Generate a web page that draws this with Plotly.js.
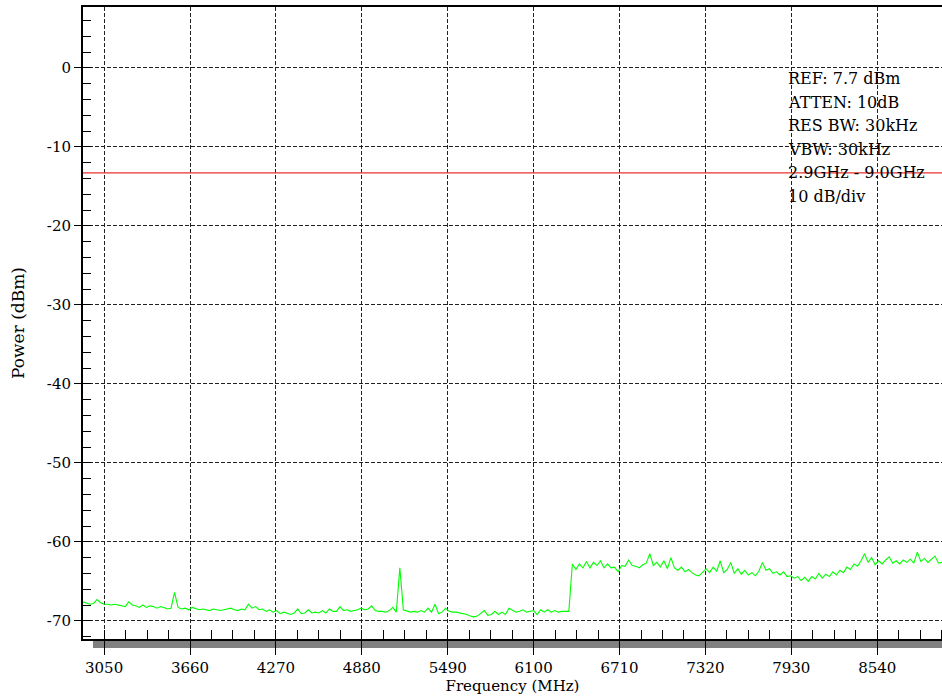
<!DOCTYPE html>
<html>
<head>
<meta charset="utf-8">
<script src="https://cdn.plot.ly/plotly-3.0.1.min.js"></script>
<style>html,body{margin:0;padding:0;background:#fff;}#chart{width:942px;height:698px;}</style>
</head>
<body>
<div id="chart"></div>
<script>
// Sweep: start frequency and step (MHz) of the trace samples
var sweepStartMHz = 2900;
var sweepStepMHz = 25;
// Measured power (dBm), one value per sweep step from 2900 to 9000 MHz
var powerDbm = [
  -67.6, -67.8, -67.9, -67.8, -67.3, -67.7, -67.9, -67.9, -68.0, -67.9,
  -68.0, -68.1, -68.2, -67.6, -68.0, -68.1, -68.3, -68.0, -68.3, -68.1,
  -68.2, -68.4, -68.2, -68.3, -68.5, -68.4, -66.4, -68.3, -68.5, -68.4,
  -68.6, -68.3, -68.5, -68.6, -68.5, -68.6, -68.7, -68.5, -68.6, -68.7,
  -68.6, -68.5, -68.4, -68.6, -68.7, -68.5, -68.6, -67.9, -68.4, -68.2,
  -68.6, -68.5, -68.8, -68.6, -68.9, -68.7, -69.1, -68.9, -69.1, -69.2,
  -69.0, -68.5, -69.1, -69.0, -68.6, -69.0, -68.9, -69.0, -68.7, -69.0,
  -68.5, -68.8, -68.8, -68.2, -68.7, -68.6, -68.8, -68.7, -68.6, -68.4,
  -68.6, -68.5, -68.1, -68.7, -68.8, -68.8, -68.9, -68.7, -68.3, -68.9,
  -63.3, -68.6, -68.8, -68.9, -68.8, -68.9, -68.7, -68.9, -68.4, -68.9,
  -67.9, -69.1, -68.9, -68.4, -68.8, -68.9, -68.9, -69.0, -69.1, -69.2,
  -69.4, -69.5, -69.4, -69.0, -68.7, -69.3, -69.2, -68.8, -69.2, -68.9,
  -69.2, -68.4, -68.6, -68.9, -68.8, -68.6, -68.9, -68.8, -68.7, -69.2,
  -68.6, -68.9, -68.6, -68.9, -68.7, -68.9, -68.8, -68.8, -68.8, -62.8,
  -63.5, -62.8, -63.3, -62.5, -63.3, -62.6, -63.0, -62.4, -63.3, -62.8,
  -63.3, -63.2, -63.8, -63.0, -63.1, -62.3, -63.0, -63.1, -63.3, -62.9,
  -62.7, -61.5, -63.0, -62.6, -63.2, -62.4, -63.4, -62.0, -63.3, -63.6,
  -63.2, -63.8, -63.5, -63.9, -64.2, -64.3, -63.9, -63.4, -63.9, -63.2,
  -63.7, -62.4, -63.9, -63.5, -62.6, -64.0, -63.4, -64.1, -63.6, -64.2,
  -63.9, -64.3, -63.7, -62.6, -63.6, -63.4, -64.0, -63.8, -64.2, -63.8,
  -64.4, -64.3, -64.6, -64.4, -64.9, -64.5, -65.0, -64.4, -64.7, -64.0,
  -64.6, -64.1, -64.4, -63.8, -64.2, -63.6, -63.9, -63.2, -63.5, -62.8,
  -63.1, -62.4, -61.5, -62.6, -62.0, -62.9, -62.4, -62.8, -62.3, -61.9,
  -62.7, -62.4, -62.8, -62.3, -62.6, -62.2, -62.7, -61.3, -62.5, -62.1,
  -62.6, -62.2, -61.8, -62.7, -62.6
];
// Limit line
var limitX = [2900, 9000];
var limitY = [-13.3, -13.3];
// Axis ticks
var xTickVals = [3050, 3660, 4270, 4880, 5490, 6100, 6710, 7320, 7930, 8540];
var xTickText = ["3050", "3660", "4270", "4880", "5490", "6100", "6710", "7320", "7930", "8540"];
var yTickVals = [0, -10, -20, -30, -40, -50, -60, -70];
var yTickText = ["0", "-10", "-20", "-30", "-40", "-50", "-60", "-70"];
// Instrument settings text
var infoLines = ["REF: 7.7 dBm", "ATTEN: 10dB", "RES BW: 30kHz", "VBW: 30kHz", "2.9GHz - 9.0GHz", "10 dB/div"];

var FONT = "DejaVu Serif, Liberation Serif, serif";

var traces = [
  {type: "scatter", mode: "lines", x0: sweepStartMHz, dx: sweepStepMHz, y: powerDbm,
   line: {color: "#00ff00", width: 1.1}, hoverinfo: "x+y"},
  {type: "scatter", mode: "lines", x: limitX, y: limitY,
   line: {color: "#e8322e", width: 1.1}, hoverinfo: "y"}
];

var annotations = infoLines.map(function (t, i) {
  return {text: t, xref: "paper", yref: "paper", x: 0.8185, xanchor: "left",
          y: (639 - (78.5 + i * 23.6)) / 632, yanchor: "middle", showarrow: false,
          font: {family: FONT, size: 16, color: "#000"}};
});

var layout = {
  width: 942, height: 698,
  margin: {l: 83, r: 0, t: 7, b: 59},
  paper_bgcolor: "#fff", plot_bgcolor: "#fff",
  showlegend: false,
  font: {family: FONT, color: "#000"},
  xaxis: {
    range: [2900, 9000], tickmode: "array", tickvals: xTickVals, ticktext: xTickText,
    ticks: "outside", ticklen: 14, tickcolor: "#000", tickwidth: 1,
    showgrid: true, gridcolor: "#222", griddash: "4px,2px", gridwidth: 1,
    showline: true, linecolor: "#000", linewidth: 2, mirror: true,
    zeroline: false, tickfont: {family: FONT, size: 15, color: "#000"},
    minor: {tickmode: "linear", tick0: 3050, dtick: 152.5, ticks: "inside", ticklen: 9, tickcolor: "#000", tickwidth: 1, showgrid: false},
    title: {text: "Frequency (MHz)", font: {family: FONT, size: 15, color: "#000"}, standoff: 2}
  },
  yaxis: {
    range: [-72.3, 7.7], tickmode: "array", tickvals: yTickVals, ticktext: yTickText,
    ticks: "outside", ticklen: 7, tickcolor: "#000", tickwidth: 1,
    showgrid: true, gridcolor: "#222", griddash: "4px,2px", gridwidth: 1,
    showline: true, linecolor: "#000", linewidth: 2,
    zeroline: false, tickfont: {family: FONT, size: 15, color: "#000"},
    minor: {tickmode: "linear", tick0: 0, dtick: 2, ticks: "inside", ticklen: 8, tickcolor: "#000", tickwidth: 1, showgrid: false},
    title: {text: "Power (dBm)", font: {family: FONT, size: 17, color: "#000"}, standoff: 18}
  },
  shapes: [
    {type: "rect", xref: "paper", yref: "paper", x0: 0.0116, x1: 1, y0: -0.0142, y1: 0,
     fillcolor: "#808080", line: {width: 0}, layer: "below"}
  ],
  annotations: annotations
};

Plotly.newPlot("chart", traces, layout, {displayModeBar: false, staticPlot: true});
</script>
</body>
</html>
